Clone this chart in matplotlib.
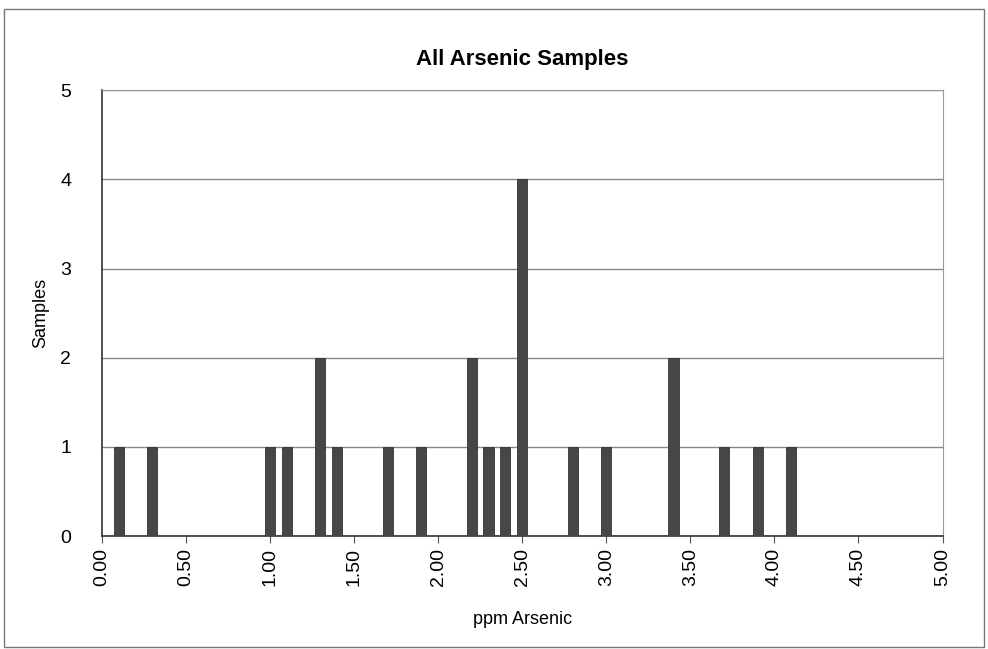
import numpy as np
import matplotlib
matplotlib.use('Agg')
import matplotlib.pyplot as plt

# valores: ppm de arsenico y cantidad de muestras
ppm = [0.1, 0.3, 1.0, 1.1, 1.3, 1.4, 1.7, 1.9, 2.2, 2.3, 2.4, 2.5, 2.8, 3.0, 3.4, 3.7, 3.9, 4.1]
samples = [1, 1, 1, 1, 2, 1, 1, 1, 2, 1, 1, 4, 1, 1, 2, 1, 1, 1]
xticks = np.arange(0, 5.01, 0.5)

plt.rcParams['font.family'] = ['Liberation Sans', 'DejaVu Sans']

fig = plt.figure(figsize=(9.88, 6.49), dpi=100)
ax = fig.add_axes([0.103, 0.174, 0.851, 0.687])

ax.bar(ppm, samples, width=0.06, color='#474747', edgecolor='#333333', linewidth=0.6, zorder=3)

ax.set_xlim(0, 5)
ax.set_ylim(0, 5)
ax.set_xticks(xticks)
ax.set_xticklabels(['%.2f' % v for v in xticks], rotation=90, fontsize=14)
ax.set_yticks(range(6))
ax.tick_params(axis='y', labelsize=14, length=0, pad=22)
ax.tick_params(axis='x', direction='out', length=5, color='#555555')
ax.grid(axis='y', color='#888888', linewidth=1.0, zorder=0)

for s in ['top', 'right']:
    ax.spines[s].set_color('#999999')
    ax.spines[s].set_linewidth(0.8)
for s in ['left', 'bottom']:
    ax.spines[s].set_color('#333333')
    ax.spines[s].set_linewidth(1.2)

ax.set_title('All Arsenic Samples', fontsize=16, fontweight='bold', pad=18)
ax.set_xlabel('ppm Arsenic', fontsize=13, labelpad=18)
ax.set_ylabel('Samples', fontsize=13, labelpad=8)

# marco exterior del grafico
fig.patches.append(plt.Rectangle((0.004, 0.003), 0.992, 0.983, transform=fig.transFigure,
                                 fill=False, edgecolor='#777777', linewidth=1.0))

fig.savefig('out.png', dpi=100)
